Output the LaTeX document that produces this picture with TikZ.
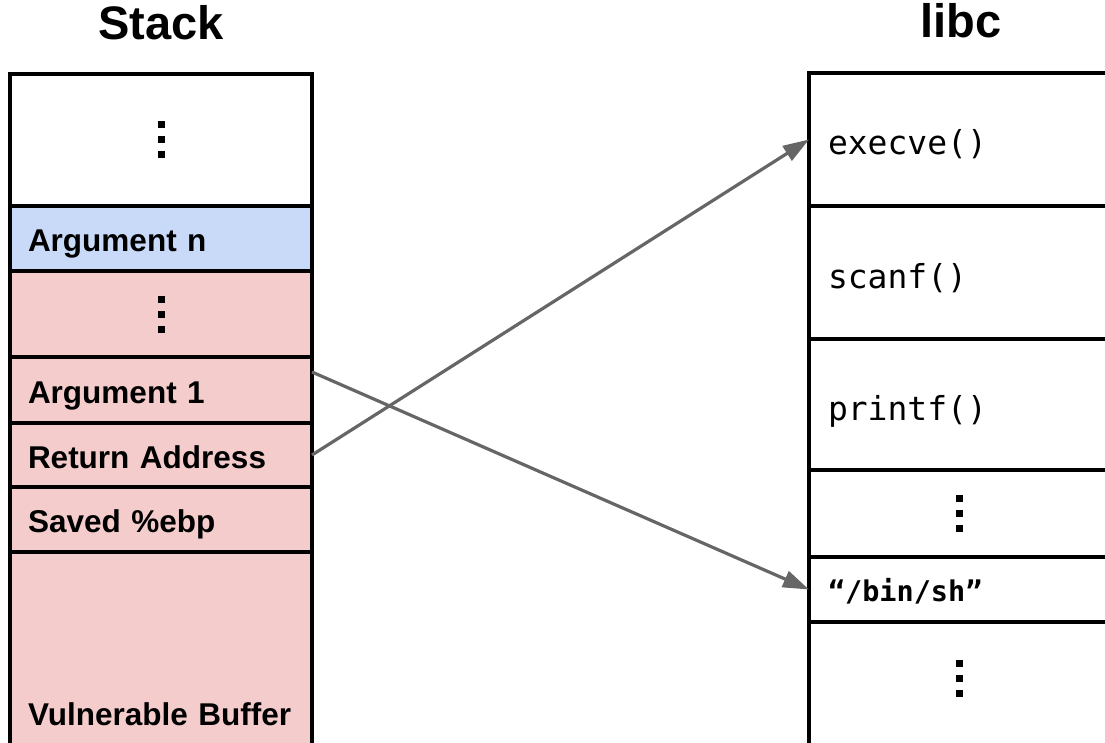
\documentclass[tikz,border=0pt]{standalone}
\usepackage{fontspec}
\usepackage{xcolor}
\usetikzlibrary{arrows.meta, positioning, calc}

\newfontfamily\sansfont{Liberation Sans}
\newfontfamily\monofont{DejaVu Sans Mono}

\definecolor{argblue}{HTML}{C9DAF8}
\definecolor{framepink}{HTML}{F4CCCC}
\definecolor{ptrgray}{HTML}{666666}

\tikzset{
  cell/.style={draw, line width=3.4pt, rectangle, anchor=north west, outer sep=0pt, inner ysep=0pt, align=left},
  stackcell/.style={cell, inner xsep=18pt, text width=266pt, text height=26pt, text depth=0pt,
    font={\sansfont\bfseries\fontsize{31.5}{36}\selectfont}},
  libccell/.style={cell, inner xsep=19pt, text width=262pt, text height=31pt, text depth=0pt,
    font={\monofont\fontsize{33}{38}\selectfont}},
  title/.style={anchor=base, font={\sansfont\bfseries\fontsize{47}{52}\selectfont}},
  pointer/.style={draw=ptrgray, line width=3.2pt, -{Triangle[length=26pt,width=17pt]}},
}

\newcommand\dotcol[1]{\foreach \k in {-15,0,15} \fill ($#1+(-3.5,\k-3.5)$) rectangle ++(7,7);}

\begin{document}
\begin{tikzpicture}[x=1pt, y=-1pt]
    \useasboundingbox (0,0) rectangle (1105,743);
    \clip (0,0) rectangle (1105,743);

    \node[title] (stacklabel) at (161,40) {Stack};
    \node[title] (libclabel) at (961,38) {libc};

    \node[stackcell, minimum height=132pt] (stacktop) at (10,74) {};
    \node[stackcell, fill=argblue, minimum height=65pt, below=0pt of stacktop] (argn) {Argument n};
    \node[stackcell, fill=framepink, minimum height=86pt, below=0pt of argn] (argdots) {};
    \node[stackcell, fill=framepink, minimum height=66pt, below=0pt of argdots] (arg1) {Argument 1};
    \node[stackcell, fill=framepink, minimum height=64pt, below=0pt of arg1] (retaddr) {Return Address};
    \node[stackcell, fill=framepink, minimum height=65pt, below=0pt of retaddr] (savedebp) {Saved \%ebp};
    \node[stackcell, fill=framepink, minimum height=238pt, text height=108pt, below=0pt of savedebp] (vulnbuf) {Vulnerable Buffer};

    \node[libccell, minimum height=133pt] (execve) at (809,73) {execve()};
    \node[libccell, minimum height=133pt, below=0pt of execve] (scanf) {scanf()};
    \node[libccell, minimum height=131pt, below=0pt of scanf] (printf) {printf()};
    \node[libccell, minimum height=87pt, below=0pt of printf] (libdots) {};
    \node[libccell, minimum height=65pt, text height=23pt, below=0pt of libdots,
      font={\monofont\bfseries\fontsize{28.5}{34}\selectfont}] (binsh) {“/bin/sh”};
    \node[libccell, minimum height=168pt, below=0pt of binsh] (libtail) {};

    \coordinate (tailmid) at ([yshift=-56pt]libtail.north);
    \dotcol{(stacktop.center)}
    \dotcol{(argdots.center)}
    \dotcol{(libdots.center)}
    \dotcol{(tailmid)}

    \coordinate (arg1out) at ([yshift=18pt]arg1.east);
    \draw[pointer] (arg1out) -- (binsh.west);
    \draw[pointer] (retaddr.east) -- (execve.west);
\end{tikzpicture}
\end{document}
